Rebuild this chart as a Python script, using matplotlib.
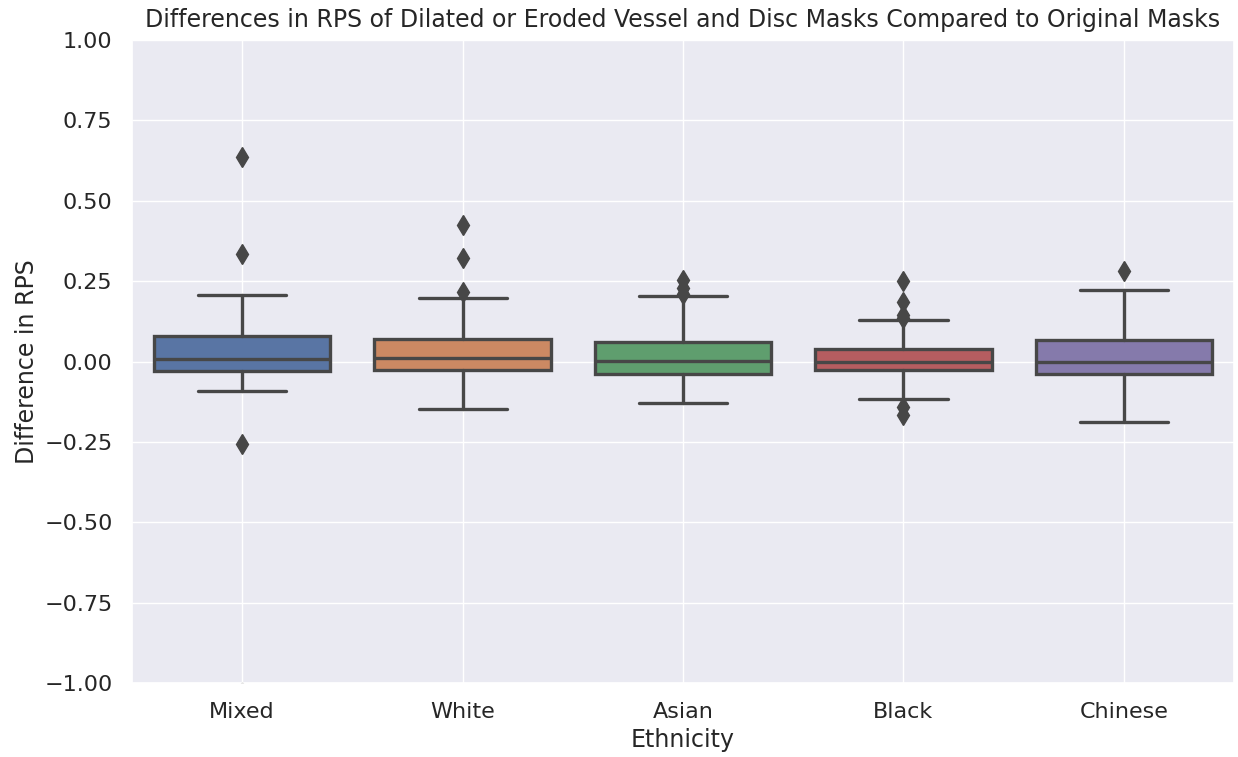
import matplotlib
matplotlib.use('Agg')
import matplotlib.pyplot as plt
import seaborn as sns
import numpy as np

sns.set_theme(style='darkgrid')

# box statistics
groups = ['Mixed', 'White', 'Asian', 'Black', 'Chinese']
q1 = [-0.029, -0.026, -0.039, -0.027, -0.040]
med = [0.007, 0.012, 0.002, 0.000, 0.000]
q3 = [0.079, 0.069, 0.062, 0.040, 0.067]
whislo = [-0.092, -0.147, -0.128, -0.117, -0.187]
whishi = [0.208, 0.197, 0.205, 0.130, 0.222]
fliers = [
    [0.637, 0.334, -0.257, -1.027],
    [0.425, 0.323, 0.215],
    [0.252, 0.228, 0.210],
    [0.251, 0.186, 0.145, 0.135, -0.140, -0.166],
    [0.282],
]

palette = sns.color_palette('deep', len(groups))
colors = [sns.desaturate(c, 0.75) for c in palette]
line_c = '#474747'
lw = 2.4

stats = []
for i, g in enumerate(groups):
    stats.append(dict(label=g, q1=q1[i], med=med[i], q3=q3[i],
                      whislo=whislo[i], whishi=whishi[i], fliers=fliers[i]))

fig = plt.figure(figsize=(12.38, 7.57), dpi=100)
ax = fig.add_axes([0.1066, 0.0977, 0.8902, 0.8495])

bp = ax.bxp(stats, positions=range(len(groups)), widths=0.8, patch_artist=True,
            showcaps=True,
            boxprops=dict(linewidth=lw, edgecolor=line_c),
            medianprops=dict(color=line_c, linewidth=lw),
            whiskerprops=dict(color=line_c, linewidth=lw),
            capprops=dict(color=line_c, linewidth=lw),
            flierprops=dict(marker='d', markerfacecolor=line_c, markeredgecolor=line_c,
                            markersize=10.5, linestyle='none'))
for patch, c in zip(bp['boxes'], colors):
    patch.set_facecolor(c)
for cap in bp['caps']:
    x = cap.get_xdata()
    mid = (x[0] + x[1]) / 2
    cap.set_xdata([mid - 0.2, mid + 0.2])

ax.set_xlim(-0.5, len(groups) - 0.5)
ax.set_ylim(-1, 1)
yt = np.arange(-1, 1.01, 0.25)
ax.set_yticks(yt)
ax.set_yticklabels(['%.2f' % v if v >= 0 else '\u2212%.2f' % -v for v in yt])
ax.set_xticks(range(len(groups)))
ax.set_xticklabels(groups)
pad0 = plt.rcParams['xtick.major.pad']
ax.tick_params(labelsize=16, pad=pad0 + 4.5)
ax.set_xlabel('Ethnicity', fontsize=17)
ax.set_ylabel('Difference in RPS', fontsize=17)
ax.set_title('Differences in RPS of Dilated or Eroded Vessel and Disc Masks Compared to Original Masks',
             fontsize=17, pad=plt.rcParams['axes.titlepad'] + 3.5)

plt.savefig('out.png', dpi=100)
plt.close()
